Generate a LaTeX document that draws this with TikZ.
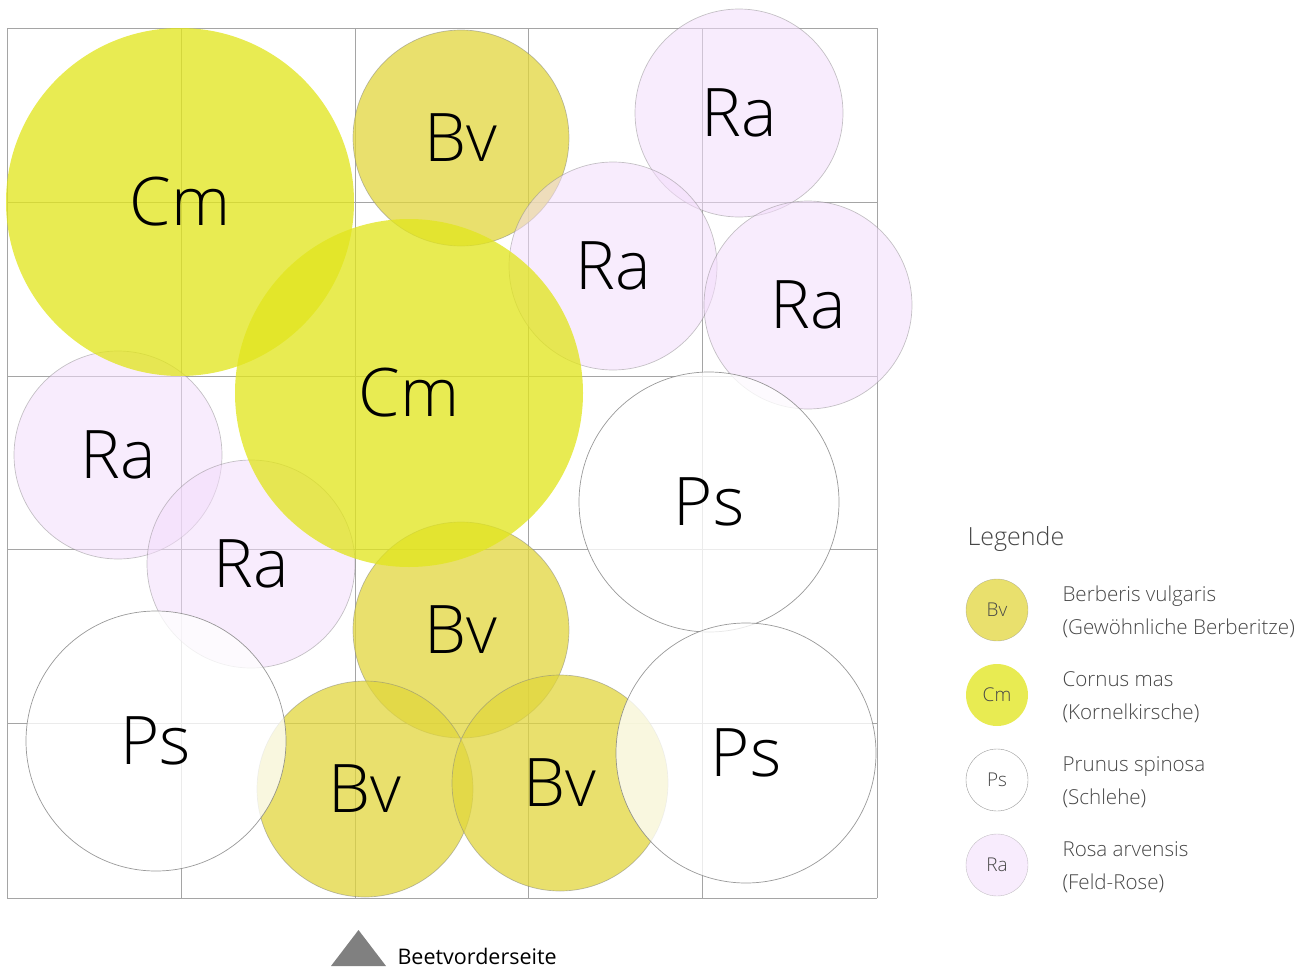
\documentclass[tikz,border=0pt]{standalone}
\usepackage{fontspec}
\setmainfont{Open Sans}[UprightFont=* Light]
\newfontfamily\regfont{Open Sans}
\definecolor{cmcol}{RGB}{225,229,30}
\definecolor{bvcol}{RGB}{225,214,60}
\definecolor{racol}{RGB}{243,220,251}
\definecolor{gridcol}{RGB}{165,165,165}
\definecolor{txtcol}{RGB}{70,70,70}
\begin{document}
\begin{tikzpicture}[x=1pt,y=-1pt,
  plant/.style={circle,inner sep=0pt,font=\fontsize{67}{70}\selectfont,text=black,text opacity=1},
  cmplant/.style={plant,fill=cmcol,fill opacity=0.77,minimum size=348pt},
  bvplant/.style={plant,fill=bvcol,fill opacity=0.75,draw=gray,draw opacity=0.5,line width=0.7pt,minimum size=216pt},
  raplant/.style={plant,fill=racol,fill opacity=0.55,draw=gray,draw opacity=0.45,line width=0.7pt,minimum size=208pt},
  psplant/.style={plant,fill=white,fill opacity=0.78,draw=gray,draw opacity=0.8,line width=0.7pt,minimum size=260pt},
  legcirc/.style={circle,inner sep=0pt,minimum size=62pt,font=\fontsize{19}{22}\selectfont,text=txtcol,text opacity=1},
  legtext/.style={anchor=west,align=left,font=\fontsize{20.6}{33}\selectfont,text=txtcol}
]
\useasboundingbox (0,0) rectangle (1312,969);
% grid
\foreach \i in {7,181,355,528,702,877} {
  \draw[gridcol,line width=0.8pt] (\i,28) -- (\i,898);
  \draw[gridcol,line width=0.8pt] (7,\i+21) -- (877,\i+21);
}
% Berberis
\node[bvplant] (bv1) at (461,138) {Bv};
\node[bvplant] (bv2) at (461,630) {Bv};
\node[bvplant] (bv3) at (365,789) {Bv};
\node[bvplant] (bv4) at (560,783) {Bv};
% Rosa
\node[raplant] (ra1) at (739,113) {Ra};
\node[raplant] (ra2) at (613,266) {Ra};
\node[raplant] (ra3) at (808,305) {Ra};
\node[raplant] (ra4) at (118,455) {Ra};
\node[raplant] (ra5) at (251,564) {Ra};
% Cornus
\node[cmplant] (cm1) at (180,202) {Cm};
\node[cmplant] (cm2) at (409,393) {Cm};
% Prunus
\node[psplant] (ps1) at (709,502) {Ps};
\node[psplant] (ps2) at (156,741) {Ps};
\node[psplant] (ps3) at (746,753) {Ps};
% front marker
\fill[gray] (331,966) -- (386,966) -- (358.5,930) -- cycle;
\node[anchor=west,font=\regfont\fontsize{21.5}{24}\selectfont,text=black] (front) at (394,956) {Beetvorderseite};
% legend
\node[anchor=west,font=\fontsize{25}{28}\selectfont,text=txtcol] (legtitle) at (964,539) {Legende};
\node[legcirc,fill=bvcol,fill opacity=0.75,draw=gray,draw opacity=0.5] (lbv) at (997,610) {Bv};
\node[legcirc,fill=cmcol,fill opacity=0.77] (lcm) at (997,695) {Cm};
\node[legcirc,fill=white,draw=gray,draw opacity=0.8] (lps) at (997,780) {Ps};
\node[legcirc,fill=racol,fill opacity=0.55,draw=gray,draw opacity=0.45] (lra) at (997,865) {Ra};
\node[legtext] (tbv) at (1059,612) {Berberis vulgaris\\(Gewöhnliche Berberitze)};
\node[legtext] (tcm) at (1059,697) {Cornus mas\\(Kornelkirsche)};
\node[legtext] (tps) at (1059,782) {Prunus spinosa\\(Schlehe)};
\node[legtext] (tra) at (1059,867) {Rosa arvensis\\(Feld-Rose)};
\end{tikzpicture}
\end{document}
